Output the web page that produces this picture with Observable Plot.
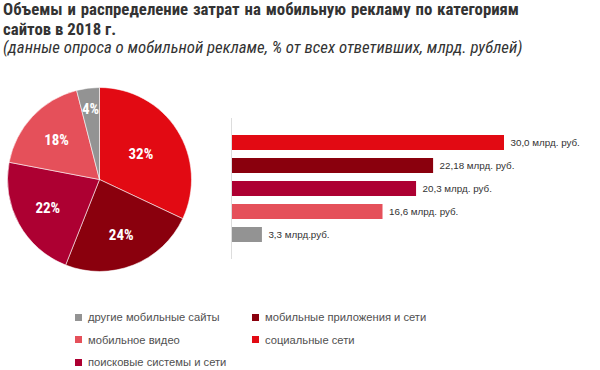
<!DOCTYPE html>
<html>
<head>
<meta charset="utf-8">
<script src="https://cdn.jsdelivr.net/npm/d3@7"></script>
<script src="https://cdn.jsdelivr.net/npm/@observablehq/plot@0.6"></script>
<style>
  html, body { margin: 0; padding: 0; background: #fff; }
  #wrap { width: 600px; height: 370px; position: relative; overflow: hidden; }
  .narrow { font-family: "Liberation Sans Narrow", "Roboto Condensed", "DejaVu Sans Condensed", "Liberation Sans", sans-serif; }
  #title { position: absolute; left: 3px; top: 0px; width: 516px; font-weight: bold; font-size: 16.8px; line-height: 19.5px; color: #333; }
  #title .l1 { display: block; text-align: justify; text-align-last: justify; }
  #title .l2 { display: block; }
  #subtitle { position: absolute; left: 3px; top: 37px; font-style: italic; font-size: 16.8px; line-height: 20px; color: #333; white-space: nowrap; }
  #chart { position: absolute; left: 0; top: 62px; }
  #legend { position: absolute; left: 75px; top: 306px; display: grid; grid-template-rows: repeat(3, 22.5px); grid-auto-flow: column; grid-template-columns: 177px 200px; font-family: "Liberation Sans", sans-serif; font-size: 11.2px; color: #505050; }
  #legend .item { display: flex; align-items: center; }
  #legend .sw { width: 7px; height: 7px; margin-right: 6px; }
</style>
</head>
<body>
<div id="wrap">
  <div id="title" class="narrow"><span class="l1">Объемы и распределение затрат на мобильную рекламу по категориям</span><span class="l2">сайтов в 2018 г.</span></div>
  <div id="subtitle" class="narrow">(данные опроса о мобильной рекламе, % от всех ответивших, млрд. рублей)</div>
  <div id="chart"></div>
  <div id="legend"></div>
</div>
<script>
const categories = ["социальные сети", "мобильные приложения и сети", "поисковые системы и сети", "мобильное видео", "другие мобильные сайты"];
const shares = [32, 24, 22, 18, 4];
const spend = [30.0, 22.18, 20.3, 16.6, 3.3];
const spendLabels = ["30,0 млрд. руб.", "22,18 млрд. руб.", "20,3 млрд. руб.", "16,6 млрд. руб.", "3,3 млрд.руб."];
const colors = ["#e20a13", "#8a000d", "#ad0032", "#e5505a", "#939393"];
const legendOrder = ["другие мобильные сайты", "мобильное видео", "поисковые системы и сети", "мобильные приложения и сети", "социальные сети"];

const data = categories.map((c, i) => ({cat: c, share: shares[i], value: spend[i], label: spendLabels[i]}));

// pie rendered as a custom mark using the plot's color scale
function pieMark(index, scales, values, dimensions, context) {
  const cx = 99.5, cy = 117.5, r = 92;
  const g = d3.create("svg:g").attr("transform", `translate(${cx},${cy})`);
  const arcs = d3.pie().sort(null).value(d => d.share)(data);
  const arc = d3.arc().innerRadius(0).outerRadius(r);
  g.selectAll("path").data(arcs).join("path")
    .attr("d", arc)
    .attr("fill", d => scales.color(d.data.cat))
    .attr("stroke", "#fff")
    .attr("stroke-opacity", 0.7)
    .attr("stroke-width", 0.8);
  g.selectAll("text").data(arcs).join("text")
    .attr("transform", d => {
      const a = (d.startAngle + d.endAngle) / 2;
      const lr = d.data.share < 10 ? 71 : (d.data.share > 30 ? 49 : 59);
      return `translate(${Math.sin(a) * lr},${-Math.cos(a) * lr})`;
    })
    .attr("text-anchor", "middle")
    .attr("dy", "0.36em")
    .attr("fill", "#fff")
    .attr("font-weight", "bold")
    .attr("font-size", 15)
    .attr("font-family", '"Liberation Sans Narrow", "Roboto Condensed", "DejaVu Sans Condensed", sans-serif')
    .text(d => d.data.share + "%");
  return g.node();
}

const chart = Plot.plot({
  width: 600,
  height: 245,
  marginLeft: 232,
  marginRight: 96,
  marginTop: 56,
  marginBottom: 48,
  style: {fontFamily: '"Liberation Sans", sans-serif', fontSize: "9.8px", background: "transparent"},
  x: {domain: [0, 30], axis: null},
  y: {domain: categories, axis: null, paddingInner: 0.337, paddingOuter: 0.684},
  color: {domain: categories, range: colors},
  marks: [
    Plot.barX(data, {x: "value", y: "cat", fill: "cat"}),
    Plot.ruleX([0], {stroke: "#dddddd", dx: -1}),
    Plot.text(data, {x: "value", y: "cat", text: "label", textAnchor: "start", dx: 6, fill: "#333"}),
    pieMark
  ]
});
document.getElementById("chart").appendChild(chart);

const colorOf = c => colors[categories.indexOf(c)];
const legend = d3.select("#legend");
legendOrder.forEach(c => {
  const it = legend.append("div").attr("class", "item");
  it.append("div").attr("class", "sw").style("background", colorOf(c));
  it.append("span").text(c);
});
</script>
</body>
</html>
